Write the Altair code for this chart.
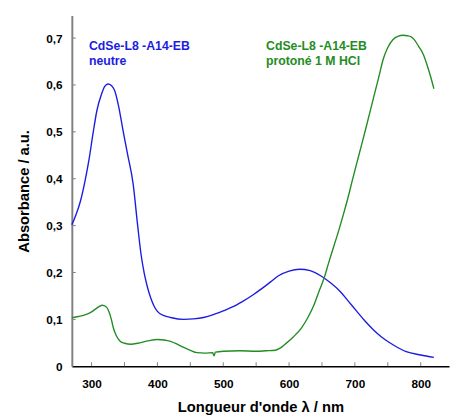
import altair as alt
import pandas as pd

# Blue series: CdSe-L8-A14-EB neutre
blue_wl = [270, 276, 283, 290, 296, 302, 308, 315, 320, 325, 330, 335, 341, 348, 355, 363, 370, 375, 380, 385, 390, 395, 400, 410, 420, 440, 455, 470, 485, 500, 515, 529, 545, 559, 572, 584, 600, 616, 632, 648, 663, 678, 690, 703, 715, 728, 740, 753, 765, 778, 800, 820]
blue_ab = [0.302, 0.322, 0.352, 0.395, 0.440, 0.495, 0.545, 0.580, 0.597, 0.602, 0.599, 0.588, 0.555, 0.501, 0.450, 0.390, 0.300, 0.240, 0.198, 0.168, 0.145, 0.128, 0.117, 0.108, 0.104, 0.100, 0.101, 0.104, 0.110, 0.118, 0.127, 0.138, 0.152, 0.166, 0.180, 0.193, 0.203, 0.207, 0.204, 0.193, 0.178, 0.159, 0.139, 0.117, 0.097, 0.078, 0.063, 0.050, 0.040, 0.031, 0.024, 0.019]

# Green series: CdSe-L8-A14-EB protoné 1 M HCl
green_wl = [270, 280, 291, 300, 308, 316, 322, 326, 330, 333, 338, 343, 350, 360, 370, 385, 400, 410, 420, 430, 440, 450, 460, 472, 484, 486, 488, 500, 525, 550, 565, 579, 587, 594, 606, 619, 629, 638, 645, 653, 660, 668, 676, 683, 690, 696, 706, 716, 728, 736, 743, 750, 758, 766, 773, 780, 785, 791, 797, 804, 810, 815, 820]
green_ab = [0.103, 0.106, 0.110, 0.116, 0.124, 0.130, 0.127, 0.118, 0.100, 0.082, 0.064, 0.054, 0.049, 0.047, 0.049, 0.054, 0.057, 0.056, 0.053, 0.047, 0.040, 0.034, 0.029, 0.028, 0.029, 0.022, 0.030, 0.032, 0.033, 0.032, 0.033, 0.034, 0.039, 0.047, 0.062, 0.082, 0.105, 0.131, 0.158, 0.187, 0.220, 0.256, 0.292, 0.326, 0.362, 0.396, 0.450, 0.504, 0.571, 0.615, 0.655, 0.680, 0.697, 0.704, 0.706, 0.705, 0.703, 0.695, 0.682, 0.665, 0.641, 0.618, 0.592]

x_ticks = [300, 350, 400, 450, 500, 550, 600, 650, 700, 750, 800]
y_ticks = [0.1, 0.2, 0.3, 0.4, 0.5, 0.6, 0.7]

W, H = 384, 357
BLUE = "#1c1ce0"
GREEN = "#238c23"
FONT = "Liberation Sans"

df = pd.concat([
    pd.DataFrame({"wl": blue_wl, "ab": blue_ab, "s": "neutre"}),
    pd.DataFrame({"wl": green_wl, "ab": green_ab, "s": "protone"}),
])

xs = alt.Scale(domain=[270, 843], nice=False, zero=False)
ys = alt.Scale(domain=[0, 0.748], nice=False)

lines = alt.Chart(df).mark_line(strokeWidth=1.4, interpolate="monotone").encode(
    x=alt.X("wl:Q", scale=xs,
            axis=alt.Axis(values=[300, 400, 500, 600, 700, 800], title="Longueur d'onde λ / nm",
                          ticks=False, grid=False, domainColor="#000000", domainWidth=1.5,
                          labelFont=FONT, labelFontSize=12, labelFontWeight="bold", labelColor="#000",
                          labelPadding=13, titleFont=FONT, titleFontSize=15, titleFontWeight="bold",
                          titleColor="#000", titlePadding=10)),
    y=alt.Y("ab:Q", scale=ys,
            axis=alt.Axis(values=[0, 0.1, 0.2, 0.3, 0.4, 0.5, 0.6, 0.7], title="Absorbance / a.u.",
                          ticks=False, grid=False, domainColor="#808080", domainWidth=2,
                          labelExpr="datum.value == 0 ? '0' : replace(format(datum.value, '.1f'), '.', ',')",
                          labelFont=FONT, labelFontSize=12, labelFontWeight="bold", labelColor="#000",
                          labelPadding=10, titleFont=FONT, titleFontSize=15, titleFontWeight="bold",
                          titleColor="#000", titlePadding=14)),
    color=alt.Color("s:N", scale=alt.Scale(domain=["neutre", "protone"], range=[BLUE, GREEN]), legend=None),
    detail="s:N",
)

xt = alt.Chart(pd.DataFrame({"t": x_ticks})).mark_rule(color="#808080", strokeWidth=1).encode(
    x=alt.X("t:Q", scale=xs), y=alt.value(H), y2=alt.value(H - 4))
yt = alt.Chart(pd.DataFrame({"t": y_ticks})).mark_rule(color="#808080", strokeWidth=1).encode(
    y=alt.Y("t:Q", scale=ys), x=alt.value(0), x2=alt.value(4))

lab_blue = pd.DataFrame({"x": [296, 296], "y": [0.675, 0.642], "t": ["CdSe-L8 -A14-EB", "neutre"]})
lab_green = pd.DataFrame({"x": [565, 565], "y": [0.675, 0.642], "t": ["CdSe-L8 -A14-EB", "protoné 1 M HCl"]})

tb = alt.Chart(lab_blue).mark_text(align="left", baseline="alphabetic", font=FONT, fontSize=12.5,
                                   fontWeight="bold", color=BLUE).encode(
    x=alt.X("x:Q", scale=xs), y=alt.Y("y:Q", scale=ys), text="t:N")
tg = alt.Chart(lab_green).mark_text(align="left", baseline="alphabetic", font=FONT, fontSize=12.5,
                                    fontWeight="bold", color=GREEN).encode(
    x=alt.X("x:Q", scale=xs), y=alt.Y("y:Q", scale=ys), text="t:N")

chart = alt.layer(lines, xt, yt, tb, tg).properties(
    width=W, height=H,
    padding={"left": 65, "top": 4, "right": 1, "bottom": 50},
    autosize=alt.AutoSizeParams(type="none"),
).configure_view(stroke=None)

chart.save("out.html", embed_options={"renderer": "svg", "actions": False})
